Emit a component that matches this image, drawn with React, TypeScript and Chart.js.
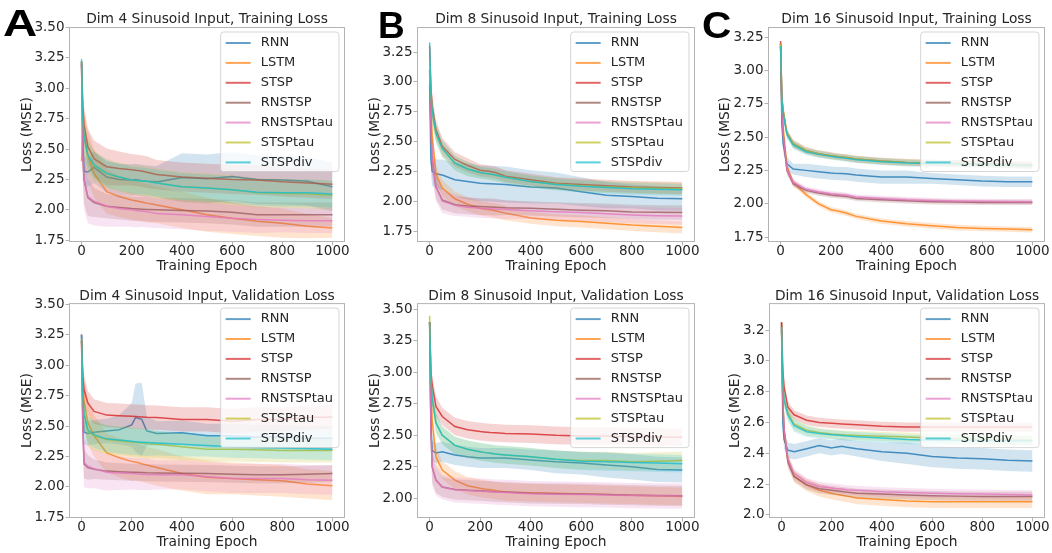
import React, { useEffect, useRef } from 'react';
import { Chart, registerables } from 'chart.js';

Chart.register(...registerables);

const FONT = '"DejaVu Sans", sans-serif';
const TEXT = '#262626';
const FRAME = '#b3b3b3';

const SERIES = ['RNN', 'LSTM', 'STSP', 'RNSTSP', 'RNSTSPtau', 'STSPtau', 'STSPdiv'];
const COLORS = ['31,119,180', '255,127,14', '214,39,40', '140,86,75', '227,119,194', '188,189,34', '23,190,207'];

const EPOCHS = [0, 5, 10, 25, 50, 100, 150, 200, 215, 240, 260, 300, 400, 500, 600, 700, 800, 900, 1000];
const X_TICKS = [0, 200, 400, 600, 800, 1000];
const Y_TICKS_175_350 = [1.75, 2.0, 2.25, 2.5, 2.75, 3.0, 3.25, 3.5];
const Y_TICKS_175_325 = [1.75, 2.0, 2.25, 2.5, 2.75, 3.0, 3.25];
const Y_TICKS_200_350 = [2.0, 2.25, 2.5, 2.75, 3.0, 3.25, 3.5];
const Y_TICKS_20_32 = [2.0, 2.2, 2.4, 2.6, 2.8, 3.0, 3.2];

// ---- Dim 4, training ----
const dim4TrainMean = [
  [3.22, 2.60, 2.32, 2.31, 2.35, 2.27, 2.25, 2.245, 2.25, 2.24, 2.235, 2.23, 2.265, 2.255, 2.275, 2.25, 2.245, 2.235, 2.19],
  [2.40, 2.72, 2.62, 2.45, 2.30, 2.15, 2.11, 2.08, 2.075, 2.065, 2.055, 2.04, 2.00, 1.96, 1.93, 1.905, 1.89, 1.865, 1.85],
  [3.22, 2.85, 2.70, 2.52, 2.42, 2.355, 2.34, 2.33, 2.325, 2.32, 2.31, 2.29, 2.27, 2.26, 2.25, 2.245, 2.23, 2.22, 2.21],
  [3.20, 2.45, 2.25, 2.10, 2.06, 2.03, 2.02, 2.01, 2.008, 2.005, 2.003, 2.00, 1.995, 1.99, 1.98, 1.96, 1.96, 1.96, 1.96],
  [3.20, 2.45, 2.25, 2.11, 2.07, 2.03, 2.01, 2.00, 1.995, 1.99, 1.985, 1.97, 1.96, 1.945, 1.93, 1.92, 1.915, 1.91, 1.91],
  [3.22, 2.75, 2.60, 2.45, 2.36, 2.30, 2.27, 2.245, 2.242, 2.238, 2.235, 2.22, 2.19, 2.18, 2.165, 2.14, 2.135, 2.13, 2.12],
  [3.24, 2.75, 2.60, 2.45, 2.37, 2.30, 2.27, 2.245, 2.242, 2.238, 2.235, 2.22, 2.19, 2.18, 2.165, 2.145, 2.14, 2.14, 2.13],
];
const dim4TrainSpread = [
  [0.08, 0.12, 0.12, 0.12, 0.13, 0.13, 0.13, 0.13, 0.13, 0.13, 0.13, 0.13, 0.20, 0.20, 0.20, 0.20, 0.20, 0.20, 0.20],
  [0.10, 0.20, 0.20, 0.20, 0.20, 0.18, 0.17, 0.16, 0.16, 0.16, 0.16, 0.15, 0.15, 0.14, 0.13, 0.12, 0.12, 0.10, 0.08],
  [0.08, 0.15, 0.15, 0.15, 0.15, 0.15, 0.14, 0.13, 0.13, 0.13, 0.13, 0.12, 0.12, 0.12, 0.12, 0.12, 0.12, 0.12, 0.12],
  [0.10, 0.20, 0.20, 0.15, 0.12, 0.10, 0.10, 0.10, 0.10, 0.10, 0.10, 0.10, 0.10, 0.10, 0.10, 0.10, 0.10, 0.10, 0.10],
  [0.10, 0.25, 0.25, 0.22, 0.20, 0.17, 0.15, 0.14, 0.14, 0.13, 0.13, 0.12, 0.12, 0.12, 0.11, 0.11, 0.10, 0.10, 0.10],
  [0.08, 0.15, 0.15, 0.13, 0.12, 0.12, 0.12, 0.12, 0.12, 0.12, 0.12, 0.12, 0.12, 0.12, 0.12, 0.12, 0.12, 0.12, 0.12],
  [0.08, 0.14, 0.14, 0.12, 0.11, 0.11, 0.11, 0.11, 0.11, 0.11, 0.11, 0.11, 0.11, 0.11, 0.11, 0.11, 0.11, 0.11, 0.11],
];

// ---- Dim 8, training ----
const dim8TrainMean = [
  [2.98, 2.35, 2.25, 2.23, 2.22, 2.18, 2.165, 2.15, 2.149, 2.147, 2.145, 2.14, 2.12, 2.11, 2.08, 2.05, 2.04, 2.025, 2.02],
  [2.92, 2.80, 2.55, 2.23, 2.11, 2.02, 1.975, 1.94, 1.935, 1.928, 1.92, 1.90, 1.86, 1.84, 1.83, 1.815, 1.80, 1.79, 1.78],
  [3.30, 2.95, 2.80, 2.60, 2.46, 2.35, 2.30, 2.26, 2.255, 2.248, 2.24, 2.21, 2.18, 2.15, 2.14, 2.13, 2.12, 2.115, 2.11],
  [3.10, 2.60, 2.35, 2.12, 2.01, 1.97, 1.96, 1.955, 1.954, 1.952, 1.95, 1.945, 1.94, 1.932, 1.925, 1.92, 1.91, 1.907, 1.905],
  [3.10, 2.60, 2.35, 2.12, 2.00, 1.965, 1.95, 1.94, 1.939, 1.937, 1.935, 1.93, 1.92, 1.912, 1.905, 1.895, 1.885, 1.878, 1.875],
  [3.20, 2.90, 2.75, 2.57, 2.44, 2.32, 2.27, 2.24, 2.235, 2.228, 2.22, 2.20, 2.165, 2.145, 2.13, 2.12, 2.112, 2.108, 2.105],
  [3.33, 2.90, 2.75, 2.57, 2.44, 2.32, 2.27, 2.24, 2.235, 2.228, 2.22, 2.20, 2.165, 2.14, 2.125, 2.115, 2.105, 2.10, 2.095],
];
const dim8TrainSpread = [
  [0.10, 0.12, 0.12, 0.12, 0.13, 0.14, 0.15, 0.15, 0.15, 0.15, 0.15, 0.15, 0.14, 0.13, 0.12, 0.11, 0.10, 0.10, 0.10],
  [0.05, 0.10, 0.10, 0.08, 0.07, 0.06, 0.06, 0.06, 0.06, 0.06, 0.06, 0.06, 0.05, 0.05, 0.05, 0.05, 0.05, 0.05, 0.05],
  [0.08, 0.10, 0.10, 0.08, 0.07, 0.06, 0.06, 0.05, 0.05, 0.05, 0.05, 0.05, 0.05, 0.05, 0.05, 0.05, 0.05, 0.05, 0.05],
  [0.10, 0.12, 0.12, 0.10, 0.08, 0.07, 0.07, 0.07, 0.07, 0.07, 0.07, 0.06, 0.06, 0.06, 0.06, 0.06, 0.06, 0.06, 0.06],
  [0.10, 0.15, 0.15, 0.12, 0.10, 0.09, 0.08, 0.08, 0.08, 0.08, 0.08, 0.08, 0.07, 0.07, 0.07, 0.07, 0.07, 0.07, 0.07],
  [0.08, 0.10, 0.10, 0.08, 0.07, 0.06, 0.06, 0.05, 0.05, 0.05, 0.05, 0.05, 0.05, 0.05, 0.05, 0.05, 0.05, 0.05, 0.05],
  [0.08, 0.10, 0.10, 0.08, 0.07, 0.06, 0.06, 0.05, 0.05, 0.05, 0.05, 0.05, 0.05, 0.05, 0.05, 0.05, 0.05, 0.05, 0.05],
];

// ---- Dim 16, training ----
const dim16TrainMean = [
  [3.20, 2.60, 2.45, 2.30, 2.26, 2.25, 2.24, 2.23, 2.228, 2.226, 2.225, 2.215, 2.20, 2.20, 2.19, 2.18, 2.17, 2.165, 2.165],
  [3.20, 2.75, 2.58, 2.28, 2.16, 2.07, 2.00, 1.955, 1.95, 1.94, 1.93, 1.905, 1.87, 1.85, 1.835, 1.822, 1.815, 1.81, 1.805],
  [3.22, 2.80, 2.70, 2.53, 2.45, 2.40, 2.375, 2.36, 2.356, 2.35, 2.346, 2.335, 2.32, 2.31, 2.305, 2.302, 2.30, 2.295, 2.29],
  [3.18, 2.70, 2.52, 2.25, 2.15, 2.10, 2.08, 2.065, 2.062, 2.058, 2.055, 2.04, 2.03, 2.022, 2.015, 2.012, 2.01, 2.01, 2.01],
  [3.20, 2.70, 2.52, 2.26, 2.16, 2.11, 2.09, 2.075, 2.072, 2.068, 2.065, 2.05, 2.04, 2.03, 2.025, 2.02, 2.018, 2.016, 2.015],
  [3.20, 2.80, 2.70, 2.53, 2.45, 2.40, 2.375, 2.36, 2.356, 2.35, 2.346, 2.335, 2.32, 2.31, 2.305, 2.30, 2.298, 2.295, 2.29],
  [3.18, 2.78, 2.68, 2.52, 2.44, 2.39, 2.37, 2.355, 2.351, 2.345, 2.34, 2.33, 2.315, 2.305, 2.30, 2.298, 2.295, 2.29, 2.285],
];
const dim16TrainSpread = [
  [0.05, 0.06, 0.06, 0.05, 0.04, 0.05, 0.05, 0.05, 0.05, 0.05, 0.05, 0.05, 0.05, 0.05, 0.04, 0.04, 0.04, 0.04, 0.04],
  [0.04, 0.05, 0.05, 0.03, 0.025, 0.02, 0.02, 0.02, 0.02, 0.02, 0.02, 0.02, 0.02, 0.02, 0.02, 0.02, 0.02, 0.02, 0.02],
  [0.04, 0.05, 0.05, 0.03, 0.03, 0.025, 0.025, 0.025, 0.025, 0.025, 0.025, 0.025, 0.025, 0.025, 0.025, 0.025, 0.025, 0.025, 0.025],
  [0.04, 0.05, 0.05, 0.03, 0.025, 0.02, 0.02, 0.02, 0.02, 0.02, 0.02, 0.02, 0.02, 0.02, 0.02, 0.02, 0.02, 0.02, 0.02],
  [0.04, 0.05, 0.05, 0.03, 0.025, 0.02, 0.02, 0.02, 0.02, 0.02, 0.02, 0.02, 0.02, 0.02, 0.02, 0.02, 0.02, 0.02, 0.02],
  [0.04, 0.05, 0.05, 0.03, 0.03, 0.025, 0.025, 0.025, 0.025, 0.025, 0.025, 0.025, 0.025, 0.025, 0.025, 0.025, 0.025, 0.025, 0.025],
  [0.04, 0.05, 0.05, 0.03, 0.03, 0.025, 0.025, 0.025, 0.025, 0.025, 0.025, 0.025, 0.025, 0.025, 0.025, 0.025, 0.025, 0.025, 0.025],
];

// ---- Dim 4, validation ----
const dim4ValMean = [
  [3.25, 2.60, 2.45, 2.44, 2.45, 2.46, 2.47, 2.51, 2.57, 2.555, 2.46, 2.44, 2.445, 2.42, 2.42, 2.41, 2.41, 2.40, 2.40],
  [3.20, 2.85, 2.70, 2.53, 2.42, 2.28, 2.24, 2.21, 2.205, 2.19, 2.18, 2.16, 2.11, 2.08, 2.07, 2.06, 2.05, 2.025, 2.01],
  [3.25, 2.90, 2.80, 2.69, 2.62, 2.59, 2.585, 2.58, 2.578, 2.575, 2.572, 2.57, 2.555, 2.555, 2.54, 2.555, 2.555, 2.57, 2.575],
  [3.20, 2.50, 2.19, 2.16, 2.145, 2.13, 2.125, 2.12, 2.12, 2.118, 2.116, 2.115, 2.112, 2.11, 2.105, 2.10, 2.10, 2.105, 2.11],
  [3.20, 2.50, 2.20, 2.17, 2.15, 2.12, 2.115, 2.11, 2.108, 2.105, 2.103, 2.10, 2.10, 2.085, 2.07, 2.07, 2.07, 2.06, 2.055],
  [3.22, 2.75, 2.60, 2.46, 2.42, 2.39, 2.38, 2.37, 2.365, 2.36, 2.355, 2.35, 2.33, 2.31, 2.31, 2.305, 2.30, 2.30, 2.30],
  [3.25, 2.75, 2.60, 2.47, 2.43, 2.395, 2.385, 2.375, 2.372, 2.368, 2.365, 2.36, 2.35, 2.34, 2.33, 2.325, 2.32, 2.315, 2.31],
];
const dim4ValSpread = [
  [0.08, 0.10, 0.10, 0.10, 0.10, 0.10, 0.12, 0.18, 0.28, 0.30, 0.12, 0.10, 0.10, 0.10, 0.10, 0.10, 0.10, 0.10, 0.10],
  [0.10, 0.20, 0.20, 0.18, 0.17, 0.16, 0.16, 0.16, 0.15, 0.15, 0.15, 0.15, 0.14, 0.14, 0.13, 0.13, 0.13, 0.12, 0.12],
  [0.08, 0.12, 0.12, 0.10, 0.10, 0.10, 0.10, 0.10, 0.10, 0.10, 0.10, 0.10, 0.10, 0.10, 0.10, 0.10, 0.10, 0.10, 0.10],
  [0.10, 0.15, 0.12, 0.10, 0.08, 0.07, 0.07, 0.07, 0.07, 0.07, 0.07, 0.07, 0.07, 0.07, 0.07, 0.07, 0.07, 0.07, 0.07],
  [0.10, 0.25, 0.20, 0.18, 0.16, 0.15, 0.14, 0.13, 0.13, 0.13, 0.13, 0.12, 0.12, 0.12, 0.12, 0.12, 0.12, 0.12, 0.12],
  [0.08, 0.12, 0.12, 0.12, 0.12, 0.12, 0.12, 0.12, 0.12, 0.12, 0.12, 0.11, 0.11, 0.10, 0.10, 0.10, 0.10, 0.10, 0.10],
  [0.08, 0.12, 0.12, 0.11, 0.11, 0.11, 0.11, 0.11, 0.11, 0.11, 0.11, 0.10, 0.10, 0.09, 0.09, 0.09, 0.09, 0.09, 0.09],
];

// ---- Dim 8, validation ----
const dim8ValMean = [
  [3.40, 2.60, 2.38, 2.36, 2.37, 2.345, 2.33, 2.32, 2.32, 2.32, 2.32, 2.32, 2.305, 2.29, 2.28, 2.265, 2.25, 2.23, 2.225],
  [3.40, 2.95, 2.62, 2.33, 2.225, 2.145, 2.10, 2.08, 2.075, 2.068, 2.062, 2.05, 2.045, 2.04, 2.035, 2.03, 2.025, 2.02, 2.015],
  [3.40, 3.00, 2.90, 2.73, 2.65, 2.57, 2.545, 2.53, 2.527, 2.522, 2.52, 2.515, 2.51, 2.50, 2.495, 2.495, 2.49, 2.487, 2.485],
  [3.40, 2.55, 2.25, 2.145, 2.09, 2.07, 2.065, 2.06, 2.058, 2.055, 2.052, 2.05, 2.04, 2.037, 2.035, 2.03, 2.025, 2.022, 2.02],
  [3.40, 2.55, 2.25, 2.145, 2.09, 2.068, 2.062, 2.057, 2.055, 2.052, 2.05, 2.047, 2.037, 2.033, 2.03, 2.027, 2.022, 2.02, 2.018],
  [3.45, 2.95, 2.80, 2.60, 2.50, 2.42, 2.39, 2.37, 2.365, 2.358, 2.352, 2.345, 2.33, 2.31, 2.30, 2.30, 2.29, 2.295, 2.30],
  [3.40, 2.95, 2.80, 2.60, 2.50, 2.42, 2.39, 2.37, 2.365, 2.358, 2.352, 2.345, 2.33, 2.31, 2.295, 2.29, 2.285, 2.28, 2.275],
];
const dim8ValSpread = [
  [0.08, 0.08, 0.08, 0.08, 0.08, 0.08, 0.08, 0.08, 0.08, 0.08, 0.08, 0.08, 0.08, 0.09, 0.09, 0.10, 0.10, 0.10, 0.10],
  [0.05, 0.10, 0.10, 0.08, 0.07, 0.07, 0.07, 0.07, 0.07, 0.07, 0.07, 0.07, 0.07, 0.07, 0.07, 0.07, 0.07, 0.07, 0.07],
  [0.05, 0.08, 0.08, 0.08, 0.07, 0.07, 0.07, 0.07, 0.07, 0.07, 0.07, 0.07, 0.07, 0.07, 0.07, 0.07, 0.07, 0.07, 0.07],
  [0.05, 0.12, 0.12, 0.10, 0.08, 0.08, 0.08, 0.08, 0.08, 0.08, 0.08, 0.08, 0.08, 0.08, 0.08, 0.08, 0.08, 0.08, 0.08],
  [0.05, 0.15, 0.15, 0.12, 0.10, 0.10, 0.10, 0.10, 0.10, 0.10, 0.10, 0.10, 0.10, 0.10, 0.10, 0.10, 0.10, 0.10, 0.10],
  [0.05, 0.08, 0.08, 0.08, 0.07, 0.07, 0.07, 0.07, 0.07, 0.07, 0.07, 0.07, 0.07, 0.07, 0.07, 0.07, 0.07, 0.07, 0.07],
  [0.05, 0.08, 0.08, 0.08, 0.07, 0.07, 0.07, 0.07, 0.07, 0.07, 0.07, 0.07, 0.07, 0.07, 0.07, 0.07, 0.07, 0.07, 0.07],
];

// ---- Dim 16, validation ----
const dim16ValMean = [
  [3.25, 2.60, 2.49, 2.42, 2.41, 2.43, 2.45, 2.435, 2.44, 2.445, 2.44, 2.43, 2.41, 2.40, 2.38, 2.37, 2.365, 2.355, 2.35],
  [3.25, 2.75, 2.55, 2.36, 2.25, 2.195, 2.16, 2.14, 2.135, 2.128, 2.122, 2.11, 2.10, 2.09, 2.085, 2.085, 2.085, 2.085, 2.085],
  [3.25, 2.95, 2.83, 2.70, 2.65, 2.615, 2.60, 2.595, 2.593, 2.59, 2.588, 2.585, 2.575, 2.57, 2.57, 2.57, 2.57, 2.57, 2.57],
  [3.20, 2.75, 2.55, 2.345, 2.25, 2.195, 2.17, 2.16, 2.157, 2.152, 2.148, 2.14, 2.135, 2.13, 2.125, 2.122, 2.12, 2.12, 2.12],
  [3.22, 2.75, 2.56, 2.36, 2.27, 2.21, 2.185, 2.175, 2.172, 2.168, 2.163, 2.16, 2.15, 2.145, 2.14, 2.137, 2.135, 2.132, 2.13],
  [3.22, 2.85, 2.75, 2.66, 2.59, 2.55, 2.535, 2.525, 2.523, 2.52, 2.518, 2.515, 2.51, 2.505, 2.50, 2.495, 2.49, 2.487, 2.485],
  [3.22, 2.85, 2.75, 2.65, 2.58, 2.54, 2.528, 2.52, 2.518, 2.515, 2.512, 2.508, 2.50, 2.49, 2.485, 2.485, 2.485, 2.482, 2.48],
];
const dim16ValSpread = [
  [0.05, 0.06, 0.06, 0.05, 0.05, 0.05, 0.05, 0.05, 0.05, 0.05, 0.05, 0.05, 0.06, 0.07, 0.07, 0.07, 0.07, 0.07, 0.07],
  [0.05, 0.05, 0.05, 0.04, 0.04, 0.04, 0.04, 0.04, 0.04, 0.04, 0.04, 0.04, 0.04, 0.04, 0.04, 0.04, 0.04, 0.04, 0.04],
  [0.04, 0.05, 0.05, 0.04, 0.03, 0.03, 0.03, 0.03, 0.03, 0.03, 0.03, 0.03, 0.03, 0.03, 0.03, 0.03, 0.03, 0.03, 0.03],
  [0.04, 0.05, 0.05, 0.04, 0.03, 0.03, 0.03, 0.03, 0.03, 0.03, 0.03, 0.03, 0.03, 0.03, 0.03, 0.03, 0.03, 0.03, 0.03],
  [0.04, 0.05, 0.05, 0.04, 0.03, 0.03, 0.03, 0.03, 0.03, 0.03, 0.03, 0.03, 0.03, 0.03, 0.03, 0.03, 0.03, 0.03, 0.03],
  [0.04, 0.05, 0.05, 0.04, 0.04, 0.035, 0.03, 0.03, 0.03, 0.03, 0.03, 0.03, 0.03, 0.03, 0.03, 0.03, 0.03, 0.03, 0.03],
  [0.04, 0.05, 0.05, 0.04, 0.04, 0.035, 0.03, 0.03, 0.03, 0.03, 0.03, 0.03, 0.03, 0.03, 0.03, 0.03, 0.03, 0.03, 0.03],
];

type PanelDef = {
  title: string;
  mean: number[][];
  spread: number[][];
  yTicks: number[];
  yMin: number;
  yMax: number;
  dec: number;
  x0: number;
  y0: number;
  w: number;
  h: number;
  frame: [number, number, number, number];
  titlePad: [number, number];
  yTitlePad: number;
  xTitlePad: number;
};

const PANELS: PanelDef[] = [
  { title: 'Dim 4 Sinusoid Input, Training Loss', mean: dim4TrainMean, spread: dim4TrainSpread, yTicks: Y_TICKS_175_350, yMin: 1.735, yMax: 3.505, dec: 2,
    x0: 0, y0: 0, w: 350, h: 280, frame: [69, 27, 345, 242], titlePad: [12.6, 0.6], yTitlePad: 20.6, xTitlePad: 6.6 },
  { title: 'Dim 8 Sinusoid Input, Training Loss', mean: dim8TrainMean, spread: dim8TrainSpread, yTicks: Y_TICKS_175_325, yMin: 1.658, yMax: 3.46, dec: 2,
    x0: 350, y0: 0, w: 350, h: 280, frame: [417, 27, 695, 242], titlePad: [12.6, 0.6], yTitlePad: 18.9, xTitlePad: 6.6 },
  { title: 'Dim 16 Sinusoid Input, Training Loss', mean: dim16TrainMean, spread: dim16TrainSpread, yTicks: Y_TICKS_175_325, yMin: 1.713, yMax: 3.325, dec: 2,
    x0: 700, y0: 0, w: 352, h: 280, frame: [768, 27, 1045, 242], titlePad: [12.6, 0.6], yTitlePad: 18.9, xTitlePad: 6.6 },
  { title: 'Dim 4 Sinusoid Input, Validation Loss', mean: dim4ValMean, spread: dim4ValSpread, yTicks: Y_TICKS_175_350, yMin: 1.745, yMax: 3.51, dec: 2,
    x0: 0, y0: 280, w: 350, h: 273, frame: [69, 303, 345, 518], titlePad: [9.3, 0], yTitlePad: 20.6, xTitlePad: 3.9 },
  { title: 'Dim 8 Sinusoid Input, Validation Loss', mean: dim8ValMean, spread: dim8ValSpread, yTicks: Y_TICKS_200_350, yMin: 1.844, yMax: 3.55, dec: 2,
    x0: 350, y0: 280, w: 350, h: 273, frame: [417, 303, 695, 518], titlePad: [9.3, 0], yTitlePad: 18.9, xTitlePad: 3.9 },
  { title: 'Dim 16 Sinusoid Input, Validation Loss', mean: dim16ValMean, spread: dim16ValSpread, yTicks: Y_TICKS_20_32, yMin: 1.98, yMax: 3.375, dec: 1,
    x0: 700, y0: 280, w: 352, h: 273, frame: [769, 303, 1045, 518], titlePad: [9.3, 0], yTitlePad: 28.9, xTitlePad: 3.9 },
];

const LETTERS = [
  { text: 'A', left: 3, top: 5, sx: 1.28 },
  { text: 'B', left: 378, top: 7, sx: 1.0 },
  { text: 'C', left: 702, top: 7, sx: 1.1 },
];

const frameLegendPlugin = {
  id: 'frameLegend',
  afterLayout(chart: any) {
    const t = chart.titleBlock;
    const a = chart.chartArea;
    if (t && a) {
      t.left = a.left;
      t.right = a.right;
      t.width = a.right - a.left;
    }
  },
  afterDatasetsDraw(chart: any) {
    const { ctx, chartArea: a } = chart;
    ctx.save();
    ctx.strokeStyle = FRAME;
    ctx.lineWidth = 1;
    ctx.strokeRect(a.left + 0.5, a.top + 0.5, a.right - a.left - 1, a.bottom - a.top - 1);

    ctx.font = `13px ${FONT}`;
    const tw = Math.max(...SERIES.map((s) => ctx.measureText(s).width));
    const bw = 5 + 25 + 10 + tw + 6;
    const bh = 139.5;
    const bx = a.right - 6 - bw;
    const by = a.top + 5;
    ctx.beginPath();
    if (ctx.roundRect) ctx.roundRect(bx, by, bw, bh, 3);
    else ctx.rect(bx, by, bw, bh);
    ctx.fillStyle = 'rgba(255,255,255,0.8)';
    ctx.fill();
    ctx.strokeStyle = 'rgba(204,204,204,0.8)';
    ctx.stroke();
    ctx.textBaseline = 'middle';
    ctx.textAlign = 'left';
    SERIES.forEach((s, i) => {
      const y = by + 11 + i * 19.9;
      ctx.strokeStyle = `rgba(${COLORS[i]},0.7)`;
      ctx.lineWidth = 2;
      ctx.beginPath();
      ctx.moveTo(bx + 5, y);
      ctx.lineTo(bx + 30, y);
      ctx.stroke();
      ctx.fillStyle = TEXT;
      ctx.fillText(s, bx + 40, y);
    });
    ctx.restore();
  },
};

function buildDatasets(p: PanelDef) {
  const ds: any[] = [];
  SERIES.forEach((name, s) => {
    const m = p.mean[s];
    const d = p.spread[s];
    const base = 100 - s * 3;
    ds.push({
      label: name + ' upper',
      data: EPOCHS.map((x, i) => ({ x, y: m[i] + d[i] })),
      borderWidth: 0,
      pointRadius: 0,
      fill: '+1',
      backgroundColor: `rgba(${COLORS[s]},0.2)`,
      borderColor: 'rgba(0,0,0,0)',
      order: base,
    });
    ds.push({
      label: name + ' lower',
      data: EPOCHS.map((x, i) => ({ x, y: m[i] - d[i] })),
      borderWidth: 0,
      pointRadius: 0,
      fill: false,
      borderColor: 'rgba(0,0,0,0)',
      order: base - 1,
    });
    ds.push({
      label: name,
      data: EPOCHS.map((x, i) => ({ x, y: m[i] })),
      borderWidth: 1.5,
      pointRadius: 0,
      fill: false,
      borderColor: `rgba(${COLORS[s]},0.8)`,
      tension: 0,
      order: base - 2,
    });
  });
  return ds;
}

function Panel({ p }: { p: PanelDef }) {
  const ref = useRef<HTMLCanvasElement>(null);
  useEffect(() => {
    if (!ref.current) return;
    const [fl, , fr, fb] = p.frame;
    const yw = fl - p.x0;
    const padR = p.w - (fr - p.x0);
    const xh = p.h - (fb - p.y0);
    const tickFont = { family: FONT, size: 13.5 };
    const titleFont = { family: FONT, size: 13.8, lineHeight: 1.0, weight: 'normal' as const };
    const chart = new Chart(ref.current, {
      type: 'line',
      data: { datasets: buildDatasets(p) },
      plugins: [frameLegendPlugin],
      options: {
        responsive: false,
        animation: false,
        events: [],
        layout: { padding: { left: 0, right: padR, top: 0, bottom: 0 } },
        plugins: {
          legend: { display: false },
          tooltip: { enabled: false },
          title: {
            display: true,
            text: p.title,
            color: TEXT,
            font: titleFont,
            padding: { top: p.titlePad[0], bottom: p.titlePad[1] },
          },
        },
        scales: {
          x: {
            type: 'linear',
            min: -50,
            max: 1050,
            afterFit: (s: any) => { s.height = xh; },
            afterBuildTicks: (s: any) => { s.ticks = X_TICKS.map((v) => ({ value: v })); },
            grid: { drawOnChartArea: false, drawTicks: true, tickLength: 3.5, color: FRAME },
            border: { display: false },
            ticks: { font: tickFont, color: TEXT, padding: -2.5, maxRotation: 0, autoSkip: false, callback: (v: any) => String(v) },
            title: { display: true, text: 'Training Epoch', color: TEXT, font: titleFont, padding: { top: 0, bottom: p.xTitlePad } },
          },
          y: {
            type: 'linear',
            min: p.yMin,
            max: p.yMax,
            afterFit: (s: any) => { s.width = yw; },
            afterBuildTicks: (s: any) => { s.ticks = p.yTicks.map((v) => ({ value: v })); },
            grid: { drawOnChartArea: false, drawTicks: true, tickLength: 3.5, color: FRAME },
            border: { display: false },
            ticks: { font: tickFont, color: TEXT, padding: 1, autoSkip: false, callback: (v: any) => Number(v).toFixed(p.dec) },
            title: { display: true, text: 'Loss (MSE)', color: TEXT, font: titleFont, padding: { top: p.yTitlePad, bottom: 0 } },
          },
        },
      } as any,
    });
    return () => chart.destroy();
  }, [p]);
  return (
    <canvas
      ref={ref}
      width={p.w}
      height={p.h}
      style={{ position: 'absolute', left: p.x0, top: p.y0, width: p.w, height: p.h }}
    />
  );
}

export default function App() {
  return (
    <div style={{ position: 'absolute', left: 0, top: 0, width: 1052, height: 553, background: '#fff', overflow: 'hidden' }}>
      {PANELS.map((p, i) => (
        <Panel key={i} p={p} />
      ))}
      {LETTERS.map((l) => (
        <div
          key={l.text}
          style={{
            position: 'absolute',
            left: l.left,
            top: l.top,
            fontFamily: '"Liberation Sans", Arial, sans-serif',
            fontWeight: 'bold',
            fontSize: 37,
            lineHeight: '37px',
            color: '#000',
            zIndex: 2,
            transform: `scaleX(${l.sx})`,
            transformOrigin: 'left top',
          }}
        >
          {l.text}
        </div>
      ))}
    </div>
  );
}
